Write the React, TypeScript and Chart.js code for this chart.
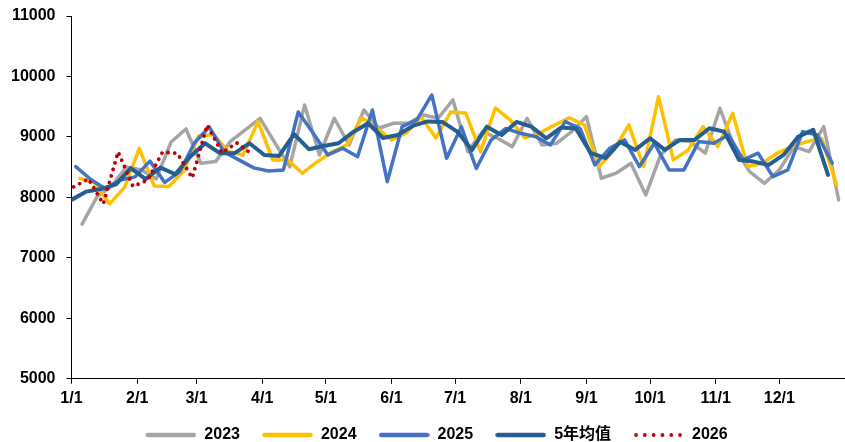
import React, { useEffect, useRef } from "react";
import { Chart, registerables } from "chart.js";

Chart.register(...registerables);

// ---- data ----
const monthStartDays = [0, 31, 59, 90, 120, 151, 181, 212, 243, 273, 304, 334];
const monthLabels = ["1/1", "2/1", "3/1", "4/1", "5/1", "6/1", "7/1", "8/1", "9/1", "10/1", "11/1", "12/1"];
const yMin = 5000;
const yMax = 11000;
const yStep = 1000;

const seriesNames = ["2023", "2024", "2025", "5年均值", "2026"];

// first weekly observation date (month-day) of each series
const start2023 = "01-06";
const start2024 = "01-05";
const start2025 = "01-03";
const startAvg = "01-01";
const start2026 = "01-02";

const values2023 = [
  7557, 8008, 8190, 8504, 8455, 8306, 8917, 9132, 8565, 8592, 8926, 9116, 9306,
  8901, 8504, 9529, 8702, 9309, 8868, 9446, 9144, 9226, 9226, 9364, 9309, 9612,
  8757, 9088, 8978, 8840, 9309, 8868, 8896, 9088, 9336, 8317, 8400, 8565, 8041,
  8702, 8950, 8923, 8731, 9474, 8812, 8427, 8234, 8455, 8840, 8757, 9170, 7959,
];
const values2024 = [
  8314, 8240, 7893, 8165, 8810, 8190, 8182, 8438, 9017, 9041, 8757, 8702, 9253,
  8620, 8620, 8400, 8590, 8750, 8870, 9314, 9149, 8950, 9066, 9330, 8983, 9413,
  9397, 8752, 9479, 9281, 8983, 9066, 9198, 9314, 9198, 8510, 8785, 9198, 8510,
  9666, 8620, 8785, 9170, 8840, 9391, 8510, 8565, 8731, 8840, 8923, 8978, 8207,
];
const values2025 = [
  8508, 8300, 8140, 8289, 8339, 8600, 8248, 8421, 8900, 9165, 8752, 8620, 8488,
  8438, 8455, 9413, 9066, 8702, 8814, 8674, 9446, 8260, 9169, 9281, 9694, 8648,
  9169, 8479, 8950, 9140, 9060, 9005, 8868, 9253, 9140, 8537, 8813, 8950, 8510,
  8896, 8455, 8455, 8923, 8896, 9033, 8620, 8731, 8344, 8455, 9088, 9033, 8565,
];
const valuesAvg = [
  7959, 8096, 8140, 8215, 8483, 8301, 8493, 8383, 8674, 8896, 8731, 8731, 8896,
  8702, 8686, 9045, 8797, 8851, 8896, 9083, 9226, 8983, 9033, 9182, 9256, 9248,
  9088, 8785, 9170, 9033, 9248, 9170, 8978, 9154, 9140, 8736, 8648, 8917, 8785,
  8979, 8785, 8950, 8950, 9144, 9088, 8620, 8592, 8537, 8702, 9005, 9116, 8372,
];
const values2026 = [8174, 8306, 7893, 8752, 8182, 8289, 8752, 8727, 8322, 9198, 8736, 8901, 8720];

// ---- helpers ----
const dayOfYear = (md: string) => {
  const t = Date.UTC(2023, Number(md.slice(0, 2)) - 1, Number(md.slice(3, 5)));
  return (t - Date.UTC(2023, 0, 1)) / 86400000;
};
const weekly = (start: string, vals: number[]) => {
  const d0 = dayOfYear(start);
  return vals.map((v, i) => ({ x: d0 + 7 * i, y: v }));
};

const COLORS = {
  c2023: "#A5A5A5",
  c2024: "#FFC000",
  c2025: "#4472C4",
  cAvg: "#255E91",
  c2026: "#C00000",
};

const FONT = { family: "'Liberation Sans', Arial, 'Noto Sans CJK SC', sans-serif", size: 16, weight: "bold" as const };

function makeSwatch(color: string, dotted: boolean) {
  const c = document.createElement("canvas");
  c.width = 51;
  c.height = 6;
  const ctx = c.getContext("2d")!;
  ctx.fillStyle = color;
  ctx.strokeStyle = color;
  if (dotted) {
    for (let i = 0; i < 6; i++) {
      ctx.beginPath();
      ctx.arc(3 + i * 8.8, 3, 1.9, 0, Math.PI * 2);
      ctx.fill();
    }
  } else {
    ctx.lineWidth = 4.5;
    ctx.lineCap = "round";
    ctx.beginPath();
    ctx.moveTo(2.5, 3);
    ctx.lineTo(48.5, 3);
    ctx.stroke();
  }
  return c;
}

const LEGEND_SHIFT_X = 14;
const LEGEND_TOP = 405;

export default function App() {
  const ref = useRef<HTMLCanvasElement | null>(null);

  useEffect(() => {
    if (!ref.current) return;
    const lineBase = {
      pointRadius: 0,
      pointHoverRadius: 0,
      tension: 0,
      fill: false,
      borderJoinStyle: "round" as const,
      borderCapStyle: "round" as const,
    };
    // dataset array ordered so that index 0 is drawn on top
    const datasets: any[] = [
      {
        ...lineBase,
        label: seriesNames[4],
        data: weekly(start2026, values2026),
        borderColor: COLORS.c2026,
        backgroundColor: COLORS.c2026,
        borderWidth: 3.8,
        borderDash: [0.01, 6.8],
      },
      { ...lineBase, label: seriesNames[3], data: weekly(startAvg, valuesAvg), borderColor: COLORS.cAvg, backgroundColor: COLORS.cAvg, borderWidth: 4 },
      { ...lineBase, label: seriesNames[2], data: weekly(start2025, values2025), borderColor: COLORS.c2025, backgroundColor: COLORS.c2025, borderWidth: 3.5 },
      { ...lineBase, label: seriesNames[1], data: weekly(start2024, values2024), borderColor: COLORS.c2024, backgroundColor: COLORS.c2024, borderWidth: 3.5 },
      { ...lineBase, label: seriesNames[0], data: weekly(start2023, values2023), borderColor: COLORS.c2023, backgroundColor: COLORS.c2023, borderWidth: 3.5 },
    ];
    const legendOrder = [
      { text: seriesNames[0], idx: 4, color: COLORS.c2023, dotted: false },
      { text: seriesNames[1], idx: 3, color: COLORS.c2024, dotted: false },
      { text: seriesNames[2], idx: 2, color: COLORS.c2025, dotted: false },
      { text: seriesNames[3], idx: 1, color: COLORS.cAvg, dotted: false },
      { text: seriesNames[4], idx: 0, color: COLORS.c2026, dotted: true },
    ];
    const swatches = legendOrder.map((l) => makeSwatch(l.color, l.dotted));

    const placeLegend = {
      id: "placeLegend",
      afterLayout(chart: any) {
        const l = chart.legend;
        if (l) {
          l.left += LEGEND_SHIFT_X;
          l.right += LEGEND_SHIFT_X;
          l.top = LEGEND_TOP;
          l.bottom = chart.height;
          l.height = l.bottom - l.top;
        }
      },
    };

    const chart = new Chart(ref.current, {
      type: "line",
      data: { datasets },
      plugins: [placeLegend],
      options: {
        animation: false,
        responsive: true,
        maintainAspectRatio: false,
        layout: { padding: { left: 0, right: 0, top: 16, bottom: 0 } },
        plugins: {
          tooltip: { enabled: false },
          legend: {
            position: "bottom",
            maxHeight: 29,
            labels: {
              usePointStyle: true,
              pointStyleWidth: 51,
              padding: 22,
              color: "#000",
              font: FONT,
              generateLabels: () =>
                legendOrder.map((l, i) => ({
                  text: l.text,
                  datasetIndex: l.idx,
                  pointStyle: swatches[i] as any,
                  fillStyle: l.color,
                  strokeStyle: l.color,
                  lineWidth: 0,
                  hidden: false,
                  fontColor: "#000",
                })),
            },
          },
        },
        scales: {
          x: {
            type: "linear",
            min: 0,
            max: 365,
            afterBuildTicks: (axis: any) => {
              axis.ticks = monthStartDays.map((v) => ({ value: v }));
            },
            ticks: {
              autoSkip: false,
              maxRotation: 0,
              color: "#000",
              font: FONT,
              padding: 5,
              callback: (v: any) => {
                const i = monthStartDays.indexOf(Number(v));
                return i >= 0 ? monthLabels[i] : "";
              },
            },
            grid: { drawOnChartArea: false, drawTicks: true, tickLength: 5, color: "#000", lineWidth: 1 },
            border: { display: true, color: "#000", width: 1 },
          },
          y: {
            type: "linear",
            min: yMin,
            max: yMax,
            afterFit: (scale: any) => {
              scale.paddingTop = 0;
              scale.paddingBottom = 0;
            },
            ticks: {
              stepSize: yStep,
              color: "#000",
              font: FONT,
              padding: 11,
              callback: (v: any) => String(v),
            },
            grid: { drawOnChartArea: false, drawTicks: true, tickLength: 5, color: "#000", lineWidth: 1 },
            border: { display: true, color: "#000", width: 1 },
          },
        },
      },
    });
    return () => chart.destroy();
  }, []);

  return (
    <div style={{ position: "fixed", left: 0, top: 0, width: 845, height: 442, background: "#fff" }}>
      <canvas ref={ref} />
    </div>
  );
}
